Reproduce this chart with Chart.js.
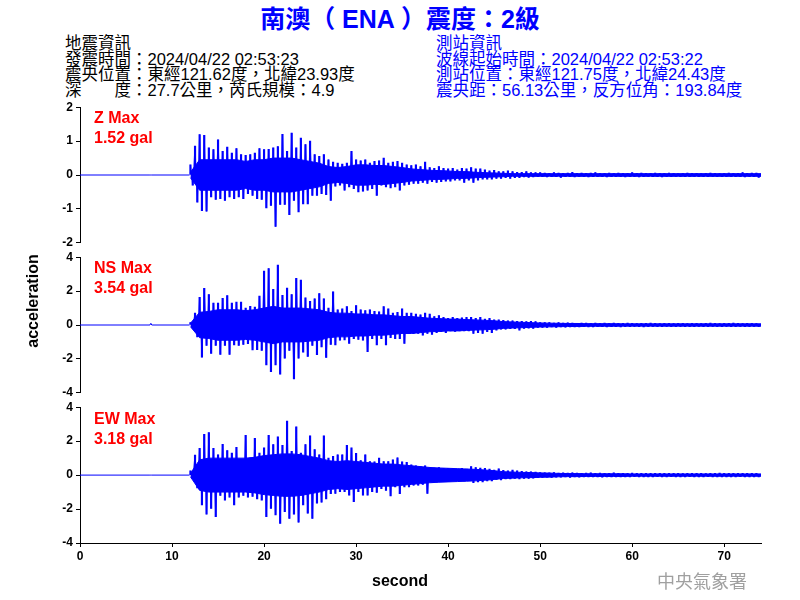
<!DOCTYPE html>
<html>
<head>
<meta charset="utf-8">
<script src="https://cdn.jsdelivr.net/npm/chart.js@4.4.1/dist/chart.umd.min.js"></script>
<style>
  html, body { margin: 0; padding: 0; background: #fff; }
  #page { position: relative; width: 800px; height: 600px; overflow: hidden;
          font-family: "Liberation Sans", Arial, "Noto Sans CJK TC", sans-serif; }
  .abs { position: absolute; white-space: pre; }
  canvas { position: absolute; left: 0; }
  #title { left: 0; width: 800px; text-align: center; top: 6px; font-size: 25px; line-height: 27px;
           font-weight: bold; color: #0000ff; }
  .info { font-size: 16.5px; line-height: 15.5px; top: 36px; }
  .maxlbl { left: 94px; font-size: 16px; line-height: 20px; font-weight: bold; color: #ff0000; }
  .axtitle { font-size: 16px; line-height: 20px; font-weight: bold; color: #000; }
</style>
</head>
<body>
<div id="page">
  <div id="title" class="abs">南澳（ ENA ）震度：2級</div>
  <div id="infoLeft" class="abs info" style="left:65px;color:#000;"></div>
  <div id="infoRight" class="abs info" style="left:436px;color:#0000ff;"></div>
  <canvas id="zChart" width="800" height="156" style="top:97px"></canvas>
  <canvas id="nsChart" width="800" height="156" style="top:247px"></canvas>
  <canvas id="ewChart" width="800" height="203" style="top:397px"></canvas>
  <div id="lblZ" class="abs maxlbl" style="top:108px"></div>
  <div id="lblNS" class="abs maxlbl" style="top:258px"></div>
  <div id="lblEW" class="abs maxlbl" style="top:409px"></div>
  <div class="abs axtitle" style="left:-27px;width:120px;top:291px;text-align:center;transform:rotate(-90deg);transform-origin:60px 10px;">acceleration</div>
  <div class="abs axtitle" style="left:300px;width:200px;top:571px;text-align:center;">second</div>
  <div class="abs" style="left:657px;top:571px;font-size:18px;line-height:18px;color:#a0a0a0;font-family:'Noto Sans CJK TC',sans-serif;">中央氣象署</div>
</div>

<script>
// header text
var quakeInfo = ['地震資訊', '發震時間：2024/04/22 02:53:23', '震央位置：東經121.62度，北緯23.93度', '深　　度：27.7公里，芮氏規模：4.9'];
var stationInfo = ['測站資訊', '波線起始時間：2024/04/22 02:53:22', '測站位置：東經121.75度，北緯24.43度', '震央距：56.13公里，反方位角：193.84度'];

// channels and peak values (gal)
var channelNames = ['Z', 'NS', 'EW'];
var channelMax = [1.52, 3.54, 3.18];
var yLimits = [2, 4, 4];
var yStepSizes = [1, 2, 2];
var xLimits = [0, 74];
var xStepSize = 10;

// quiet part before the P arrival
var preTimes = [0, 7.6, 7.7, 7.8, 11.9];
var zPre = [0, 0, 0, 0, 0];
var nsPre = [0, 0, 0.1, 0, 0];
var ewPre = [0, 0, 0, 0, 0];

// from 12 s on: half-width of the dense (solid) band, one value per second
var coreStart = 12;
var coreStep = 1;
var zCore = [0.08, 0.45, 0.45, 0.45, 0.45, 0.45, 0.4, 0.45, 0.45, 0.5,
  0.5, 0.5, 0.45, 0.4, 0.35, 0.25, 0.22, 0.25, 0.3, 0.3,
  0.28, 0.28, 0.25, 0.22, 0.18, 0.16, 0.14, 0.13, 0.12, 0.1,
  0.1, 0.08, 0.07, 0.06, 0.05,
  0.04, 0.04, 0.04, 0.04, 0.04, 0.04, 0.04, 0.04, 0.04, 0.04, 0.04, 0.04, 0.04, 0.04,
  0.04, 0.04, 0.04, 0.04, 0.04, 0.04, 0.04, 0.04, 0.04, 0.04, 0.04, 0.04, 0.04, 0.04];
var nsCore = [0.1, 0.75, 0.8, 0.9, 0.9, 0.9, 0.85, 0.9, 1.0, 1.1,
  1.0, 1.0, 1.0, 0.95, 0.9, 0.75, 0.7, 0.7, 0.65, 0.65,
  0.6, 0.6, 0.55, 0.5, 0.5, 0.45, 0.4, 0.38, 0.35, 0.35,
  0.32, 0.3, 0.28, 0.25, 0.2, 0.18, 0.16, 0.14, 0.12, 0.11, 0.1,
  0.09, 0.09, 0.08, 0.08, 0.08, 0.08, 0.07, 0.07, 0.07, 0.07, 0.07,
  0.07, 0.07, 0.07, 0.07, 0.07, 0.07, 0.07, 0.07, 0.07, 0.07, 0.07];
var ewCore = [0.1, 0.9, 1.0, 1.0, 1.0, 1.0, 1.0, 1.05, 1.15, 1.2,
  1.25, 1.25, 1.2, 1.1, 1.0, 0.85, 0.8, 0.85, 0.8, 0.75,
  0.7, 0.65, 0.65, 0.6, 0.55, 0.5, 0.45, 0.42, 0.4, 0.38,
  0.36, 0.34, 0.3, 0.26, 0.2, 0.18, 0.16, 0.15, 0.13, 0.12, 0.1,
  0.09, 0.09, 0.08, 0.08, 0.08, 0.08, 0.08, 0.07, 0.07, 0.07, 0.07,
  0.07, 0.07, 0.07, 0.07, 0.07, 0.07, 0.07, 0.07, 0.07, 0.07, 0.07];

// from 12.0 s on: peak up / peak down in every half second
var binStart = 12.0;
var binWidth = 0.5;

var zHigh = [0.3, 0.85, 1.19, 1.17, 0.8, 0.75, 1.04, 0.7, 0.82, 0.65,
  0.78, 0.6, 0.58, 0.6, 0.65, 0.78, 0.75, 0.76, 0.8, 0.84,
  1.2, 0.7, 1.24, 0.8, 1.09, 0.9, 1.0, 0.6, 0.55, 0.6,
  0.45, 0.38, 0.35, 0.32, 0.35, 0.7, 0.45, 0.42, 0.45, 0.35,
  0.4, 0.42, 0.5, 0.35, 0.38, 0.4, 0.35, 0.3, 0.28, 0.3,
  0.25, 0.38, 0.22, 0.2, 0.25, 0.2, 0.18, 0.2, 0.15, 0.2,
  0.18, 0.22, 0.18, 0.18, 0.15, 0.12, 0.14, 0.1, 0.1, 0.12,
  0.1, 0.08, 0.08, 0.1, 0.07, 0.07,
  0.07, 0.06, 0.05, 0.07, 0.06, 0.05, 0.06, 0.08, 0.05, 0.06, 0.05, 0.06,
  0.07, 0.05, 0.05, 0.06, 0.05, 0.06, 0.05, 0.05, 0.07, 0.05, 0.06, 0.05,
  0.05, 0.06, 0.05, 0.05, 0.06, 0.05, 0.04, 0.05, 0.06, 0.05, 0.05, 0.04,
  0.05, 0.06, 0.05, 0.04, 0.05, 0.06, 0.05, 0.05, 0.07, 0.05, 0.06, 0.06];
var zLow = [-0.3, -0.8, -1.05, -1.07, -0.65, -0.72, -0.7, -0.75, -0.65, -0.7,
  -0.65, -0.7, -0.55, -0.6, -0.7, -0.72, -0.97, -0.9, -1.52, -0.87,
  -0.87, -1.17, -0.75, -1.09, -0.85, -0.85, -0.6, -0.6, -0.55, -0.58,
  -0.75, -0.33, -0.3, -0.45, -0.35, -0.4, -0.5, -0.48, -0.45, -0.4,
  -0.6, -0.3, -0.35, -0.38, -0.35, -0.45, -0.3, -0.28, -0.25, -0.25,
  -0.22, -0.25, -0.2, -0.22, -0.2, -0.18, -0.18, -0.15, -0.15, -0.22,
  -0.15, -0.22, -0.15, -0.12, -0.12, -0.12, -0.1, -0.1, -0.08, -0.1,
  -0.08, -0.08, -0.06, -0.07, -0.06, -0.05,
  -0.05, -0.06, -0.05, -0.05, -0.07, -0.05, -0.05, -0.06, -0.05, -0.05, -0.06, -0.05,
  -0.05, -0.05, -0.06, -0.05, -0.05, -0.05, -0.06, -0.05, -0.05, -0.06, -0.05, -0.04,
  -0.05, -0.05, -0.06, -0.05, -0.05, -0.04, -0.05, -0.05, -0.05, -0.04, -0.05, -0.05,
  -0.05, -0.04, -0.05, -0.05, -0.05, -0.04, -0.05, -0.05, -0.06, -0.05, -0.05, -0.07];

var nsHigh = [0.15, 0.7, 1.63, 2.16, 1.8, 1.3, 1.3, 1.57, 1.73, 1.3,
  1.35, 1.35, 1.0, 1.1, 1.05, 1.7, 3.18, 3.33, 2.1, 3.54,
  1.75, 2.18, 1.8, 2.75, 2.65, 1.6, 1.4, 1.55, 1.86, 1.55,
  1.0, 1.96, 0.9, 0.95, 1.08, 0.8, 1.15, 0.9, 0.85, 0.9,
  0.8, 0.78, 1.08, 0.95, 0.7, 0.75, 0.95, 0.7, 0.7, 0.65,
  0.6, 0.7, 0.65, 0.5, 0.55, 0.45, 0.4, 0.45, 0.4, 0.42,
  0.45, 0.45, 0.4, 0.45, 0.35, 0.4, 0.3, 0.3, 0.28, 0.25,
  0.25, 0.22, 0.22, 0.2, 0.22, 0.2,
  0.15, 0.14, 0.15, 0.12, 0.14, 0.12, 0.13, 0.12, 0.1, 0.12, 0.11, 0.1,
  0.12, 0.1, 0.11, 0.1, 0.12, 0.1, 0.1, 0.11, 0.1, 0.09, 0.1, 0.1,
  0.11, 0.1, 0.09, 0.1, 0.1, 0.09, 0.1, 0.1, 0.09, 0.1, 0.1, 0.09,
  0.1, 0.11, 0.1, 0.09, 0.1, 0.1, 0.12, 0.1, 0.09, 0.1, 0.1, 0.09];
var nsLow = [-0.12, -0.7, -1.9, -1.2, -1.67, -1.2, -1.73, -1.2, -1.73, -1.18,
  -1.2, -1.15, -1.1, -1.47, -1.45, -1.5, -2.35, -2.75, -2.35, -2.9,
  -1.96, -1.5, -3.18, -1.96, -1.6, -1.86, -1.2, -1.75, -1.3, -1.92,
  -1.15, -1.18, -0.9, -0.88, -1.08, -0.8, -0.85, -0.9, -1.57, -0.8,
  -1.18, -0.8, -1.18, -0.75, -0.8, -0.8, -1.08, -0.5, -0.5, -0.5,
  -0.6, -0.5, -0.55, -0.45, -0.4, -0.45, -0.35, -0.38, -0.35, -0.35,
  -0.35, -0.5, -0.45, -0.5, -0.4, -0.45, -0.3, -0.25, -0.25, -0.22,
  -0.22, -0.3, -0.2, -0.18, -0.2, -0.15,
  -0.14, -0.15, -0.12, -0.14, -0.12, -0.13, -0.12, -0.11, -0.12, -0.1, -0.11, -0.12,
  -0.1, -0.1, -0.11, -0.1, -0.1, -0.12, -0.1, -0.1, -0.09, -0.1, -0.11, -0.1,
  -0.09, -0.1, -0.1, -0.09, -0.1, -0.1, -0.09, -0.1, -0.1, -0.1, -0.09, -0.1,
  -0.1, -0.09, -0.1, -0.1, -0.09, -0.1, -0.1, -0.09, -0.1, -0.1, -0.09, -0.1];

var ewHigh = [0.25, 1.18, 1.57, 2.4, 2.5, 1.57, 1.2, 1.82, 1.45, 1.3,
  1.63, 0.9, 2.35, 1.0, 2.16, 1.3, 1.6, 2.35, 1.8, 2.25,
  1.75, 3.18, 1.4, 2.84, 1.3, 1.8, 2.31, 1.5, 1.2, 2.31,
  1.0, 1.1, 1.2, 1.2, 1.76, 1.6, 1.28, 0.85, 1.2, 0.8,
  0.78, 1.0, 0.8, 0.8, 0.9, 1.02, 0.78, 0.75, 0.6, 0.55,
  0.5, 0.55, 0.45, 0.42, 0.45, 0.4, 0.38, 0.38, 0.35, 0.4,
  0.35, 0.5, 0.45, 0.42, 0.4, 0.35, 0.3, 0.37, 0.28, 0.25,
  0.3, 0.25, 0.22, 0.2, 0.2, 0.18,
  0.15, 0.14, 0.13, 0.15, 0.12, 0.13, 0.12, 0.14, 0.12, 0.11, 0.12, 0.13,
  0.11, 0.12, 0.1, 0.11, 0.13, 0.1, 0.11, 0.1, 0.12, 0.1, 0.11, 0.1,
  0.1, 0.11, 0.1, 0.1, 0.11, 0.1, 0.1, 0.09, 0.1, 0.1, 0.11, 0.1,
  0.09, 0.1, 0.1, 0.12, 0.1, 0.1, 0.11, 0.1, 0.1, 0.1, 0.11, 0.1];
var ewLow = [-0.2, -0.75, -1.76, -2.3, -1.96, -2.45, -1.2, -1.47, -1.3, -1.76,
  -1.3, -1.2, -1.3, -1.25, -1.4, -1.47, -2.45, -1.96, -2.35, -2.84,
  -2.16, -2.55, -2.3, -2.78, -1.76, -2.25, -2.55, -1.65, -1.6, -1.4,
  -1.1, -1.08, -0.98, -0.98, -1.18, -1.57, -0.98, -1.18, -1.18, -0.98,
  -1.02, -0.8, -0.9, -1.22, -0.7, -1.1, -0.7, -0.7, -0.6, -0.6,
  -0.55, -1.08, -0.4, -0.4, -0.38, -0.35, -0.35, -0.3, -0.3, -0.35,
  -0.3, -0.45, -0.4, -0.4, -0.35, -0.35, -0.25, -0.28, -0.22, -0.22,
  -0.2, -0.22, -0.2, -0.2, -0.18, -0.15,
  -0.13, -0.12, -0.14, -0.12, -0.12, -0.11, -0.13, -0.1, -0.12, -0.11, -0.1, -0.11,
  -0.1, -0.12, -0.1, -0.1, -0.11, -0.1, -0.1, -0.1, -0.09, -0.1, -0.1, -0.11,
  -0.1, -0.09, -0.1, -0.1, -0.09, -0.1, -0.1, -0.1, -0.09, -0.1, -0.1, -0.1,
  -0.09, -0.1, -0.1, -0.1, -0.11, -0.1, -0.1, -0.09, -0.1, -0.1, -0.1, -0.1];

document.getElementById('infoLeft').textContent = quakeInfo.join('\n');
document.getElementById('infoRight').textContent = stationInfo.join('\n');
['lblZ', 'lblNS', 'lblEW'].forEach(function (id, i) {
    document.getElementById(id).textContent = channelNames[i] + ' Max\n' + channelMax[i].toFixed(2) + ' gal';
});

var traceColor = '#0000ff';

// flat trace before the arrival
function buildPre(pre) {
    return preTimes.map(function (t, i) { return { x: t, y: pre[i] }; });
}

function buildBand(core, sign) {
    return core.map(function (v, i) { return { x: coreStart + i * coreStep, y: sign * v }; });
}

// every half second: one spike up, one spike down
function buildSpikes(high, low) {
    var pts = [];
    var n = Math.min(high.length, low.length);
    for (var j = 0; j < n; j++) {
        var t = binStart + j * binWidth;
        pts.push({ x: t, y: [0, high[j]] });
        pts.push({ x: t + binWidth / 2, y: [low[j], 0] });
    }
    return pts;
}

// same peaks joined as one zig-zag trace
function buildZigzag(high, low) {
    var pts = [];
    var n = Math.min(high.length, low.length);
    for (var j = 0; j < n; j++) {
        var t = binStart + j * binWidth;
        pts.push({ x: t, y: high[j] });
        pts.push({ x: t + binWidth / 2, y: low[j] });
    }
    return pts;
}

var tickFont = { family: '"Liberation Sans", Arial, sans-serif', size: 12, weight: 'bold' };

function makePanel(canvasId, pre, core, high, low, yLim, yStep, showX) {
    var ctx = document.getElementById(canvasId);
    return new Chart(ctx, {
        type: 'line',
        data: {
            datasets: [{
                data: buildBand(core, 1),
                borderColor: traceColor,
                backgroundColor: traceColor,
                borderWidth: 1,
                pointRadius: 0,
                tension: 0,
                fill: '+1'
            }, {
                data: buildBand(core, -1),
                borderColor: traceColor,
                borderWidth: 1,
                pointRadius: 0,
                tension: 0,
                fill: false
            }, {
                type: 'bar',
                data: buildSpikes(high, low),
                backgroundColor: traceColor,
                borderWidth: 0,
                barThickness: 1.5,
                grouped: false
            }, {
                data: buildZigzag(high, low),
                borderColor: traceColor,
                borderWidth: 0.8,
                pointRadius: 0,
                tension: 0,
                fill: false
            }, {
                data: buildPre(pre),
                borderColor: traceColor,
                borderWidth: 1,
                pointRadius: 0,
                tension: 0,
                fill: false
            }]
        },
        options: {
            responsive: false,
            animation: false,
            layout: { padding: { top: 10, bottom: showX ? 7 : 10, left: 0, right: 39 } },
            plugins: { legend: { display: false }, tooltip: { enabled: false } },
            scales: {
                x: {
                    type: 'linear',
                    display: showX,
                    offset: false,
                    min: xLimits[0],
                    max: xLimits[1],
                    ticks: { stepSize: xStepSize, includeBounds: false, color: '#000', font: tickFont, padding: 2, maxRotation: 0 },
                    grid: { drawOnChartArea: false, drawTicks: true, tickLength: 4, color: '#000', offset: false },
                    border: { display: true, color: '#000', width: 1 },
                    afterFit: function (scale) { if (showX) { scale.height = 50; } }
                },
                y: {
                    min: -yLim,
                    max: yLim,
                    ticks: { stepSize: yStep, color: '#000', font: tickFont, padding: 3 },
                    grid: { drawOnChartArea: false, drawTicks: true, tickLength: 4, color: '#000' },
                    border: { display: true, color: '#000', width: 1 },
                    afterFit: function (scale) { scale.width = 80; }
                }
            }
        }
    });
}

makePanel('zChart', zPre, zCore, zHigh, zLow, yLimits[0], yStepSizes[0], false);
makePanel('nsChart', nsPre, nsCore, nsHigh, nsLow, yLimits[1], yStepSizes[1], false);
makePanel('ewChart', ewPre, ewCore, ewHigh, ewLow, yLimits[2], yStepSizes[2], true);
</script>
</body>
</html>
